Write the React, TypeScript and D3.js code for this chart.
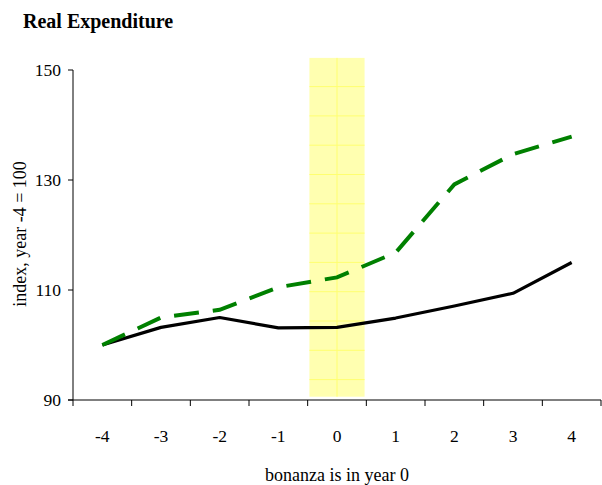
import React from "react";
import * as d3 from "d3";

const years = ["-4", "-3", "-2", "-1", "0", "1", "2", "3", "4"];
const blackSeries = [100, 103.2, 105.0, 103.1, 103.2, 104.9, 107.1, 109.4, 115.0];
const greenSeries = [100, 105.0, 106.4, 110.5, 112.3, 116.8, 129.2, 134.7, 137.9];
const yTicks = [90, 110, 130, 150];
const highlightYear = "0";
const highlightRange = [90.6, 152.2];

const W = 602;
const H = 485;
const left = 73;
const right = 601;
const top = 70;
const bottom = 400;
const FONT = "'Liberation Serif', 'DejaVu Serif', serif";

export default function App() {
  const x = d3.scaleBand<string>().domain(years).range([left, right]).padding(0);
  const xBar = d3.scaleBand<string>().domain(years).range([left, right]).paddingInner(0.06).paddingOuter(0.03);
  const y = d3.scaleLinear().domain([90, 150]).range([bottom, top]);
  const cx = (d: string) => (x(d) as number) + x.bandwidth() / 2;

  const line = d3
    .line<number>()
    .x((_, i) => cx(years[i]))
    .y((v) => y(v));

  const bx = xBar(highlightYear) as number;
  const bw = xBar.bandwidth();
  const by0 = y(highlightRange[1]);
  const by1 = y(highlightRange[0]);
  const gridYs: number[] = [];
  for (let gy = by0 + 28.7; gy < by1; gy += 29.3) gridYs.push(gy);

  const boundaries = years.map((d) => x(d) as number).concat([right]);

  return (
    <svg width={W} height={H} style={{ position: "absolute", left: 0, top: 0, background: "#fff" }}>
      <text x={23} y={28} fontFamily={FONT} fontWeight="bold" fontSize={20} fill="#000">
        Real Expenditure
      </text>

      {/* highlight band */}
      <rect x={bx} y={by0} width={bw} height={by1 - by0} fill="#ffffb0" />
      {gridYs.map((gy, i) => (
        <line key={i} x1={bx} x2={bx + bw} y1={gy} y2={gy} stroke="#ffff70" strokeWidth={1} />
      ))}
      <line x1={bx + bw / 2} x2={bx + bw / 2} y1={by0} y2={by1} stroke="#ffff70" strokeWidth={1} />

      {/* axes */}
      <line x1={left} x2={left} y1={top} y2={bottom} stroke="#000" strokeWidth={1} />
      <line x1={left - 5} x2={right} y1={bottom} y2={bottom} stroke="#000" strokeWidth={1} />
      {yTicks.map((t) => (
        <g key={t}>
          <line x1={left - 5} x2={left} y1={y(t)} y2={y(t)} stroke="#000" />
          <text x={61} y={y(t)} dy="0.35em" textAnchor="end" fontFamily={FONT} fontSize={17.5} fill="#000">
            {t}
          </text>
        </g>
      ))}
      {boundaries.map((bxx, i) => (
        <line key={i} x1={bxx} x2={bxx} y1={bottom} y2={bottom + 6} stroke="#000" />
      ))}
      {years.map((d) => (
        <text key={d} x={cx(d)} y={442} textAnchor="middle" fontFamily={FONT} fontSize={17.5} fill="#000">
          {d}
        </text>
      ))}

      {/* lines */}
      <path d={line(blackSeries) || ""} fill="none" stroke="#000" strokeWidth={3.2} strokeLinejoin="round" />
      <path
        d={line(greenSeries) || ""}
        fill="none"
        stroke="#008000"
        strokeWidth={4}
        strokeDasharray="25 14"
      />

      <text
        transform={`translate(26, 234) rotate(-90)`}
        textAnchor="middle"
        fontFamily={FONT}
        fontSize={18}
        fill="#000"
      >
        index, year -4 = 100
      </text>
      <text x={337} y={481} textAnchor="middle" fontFamily={FONT} fontSize={18} fill="#000">
        bonanza is in year 0
      </text>
    </svg>
  );
}
